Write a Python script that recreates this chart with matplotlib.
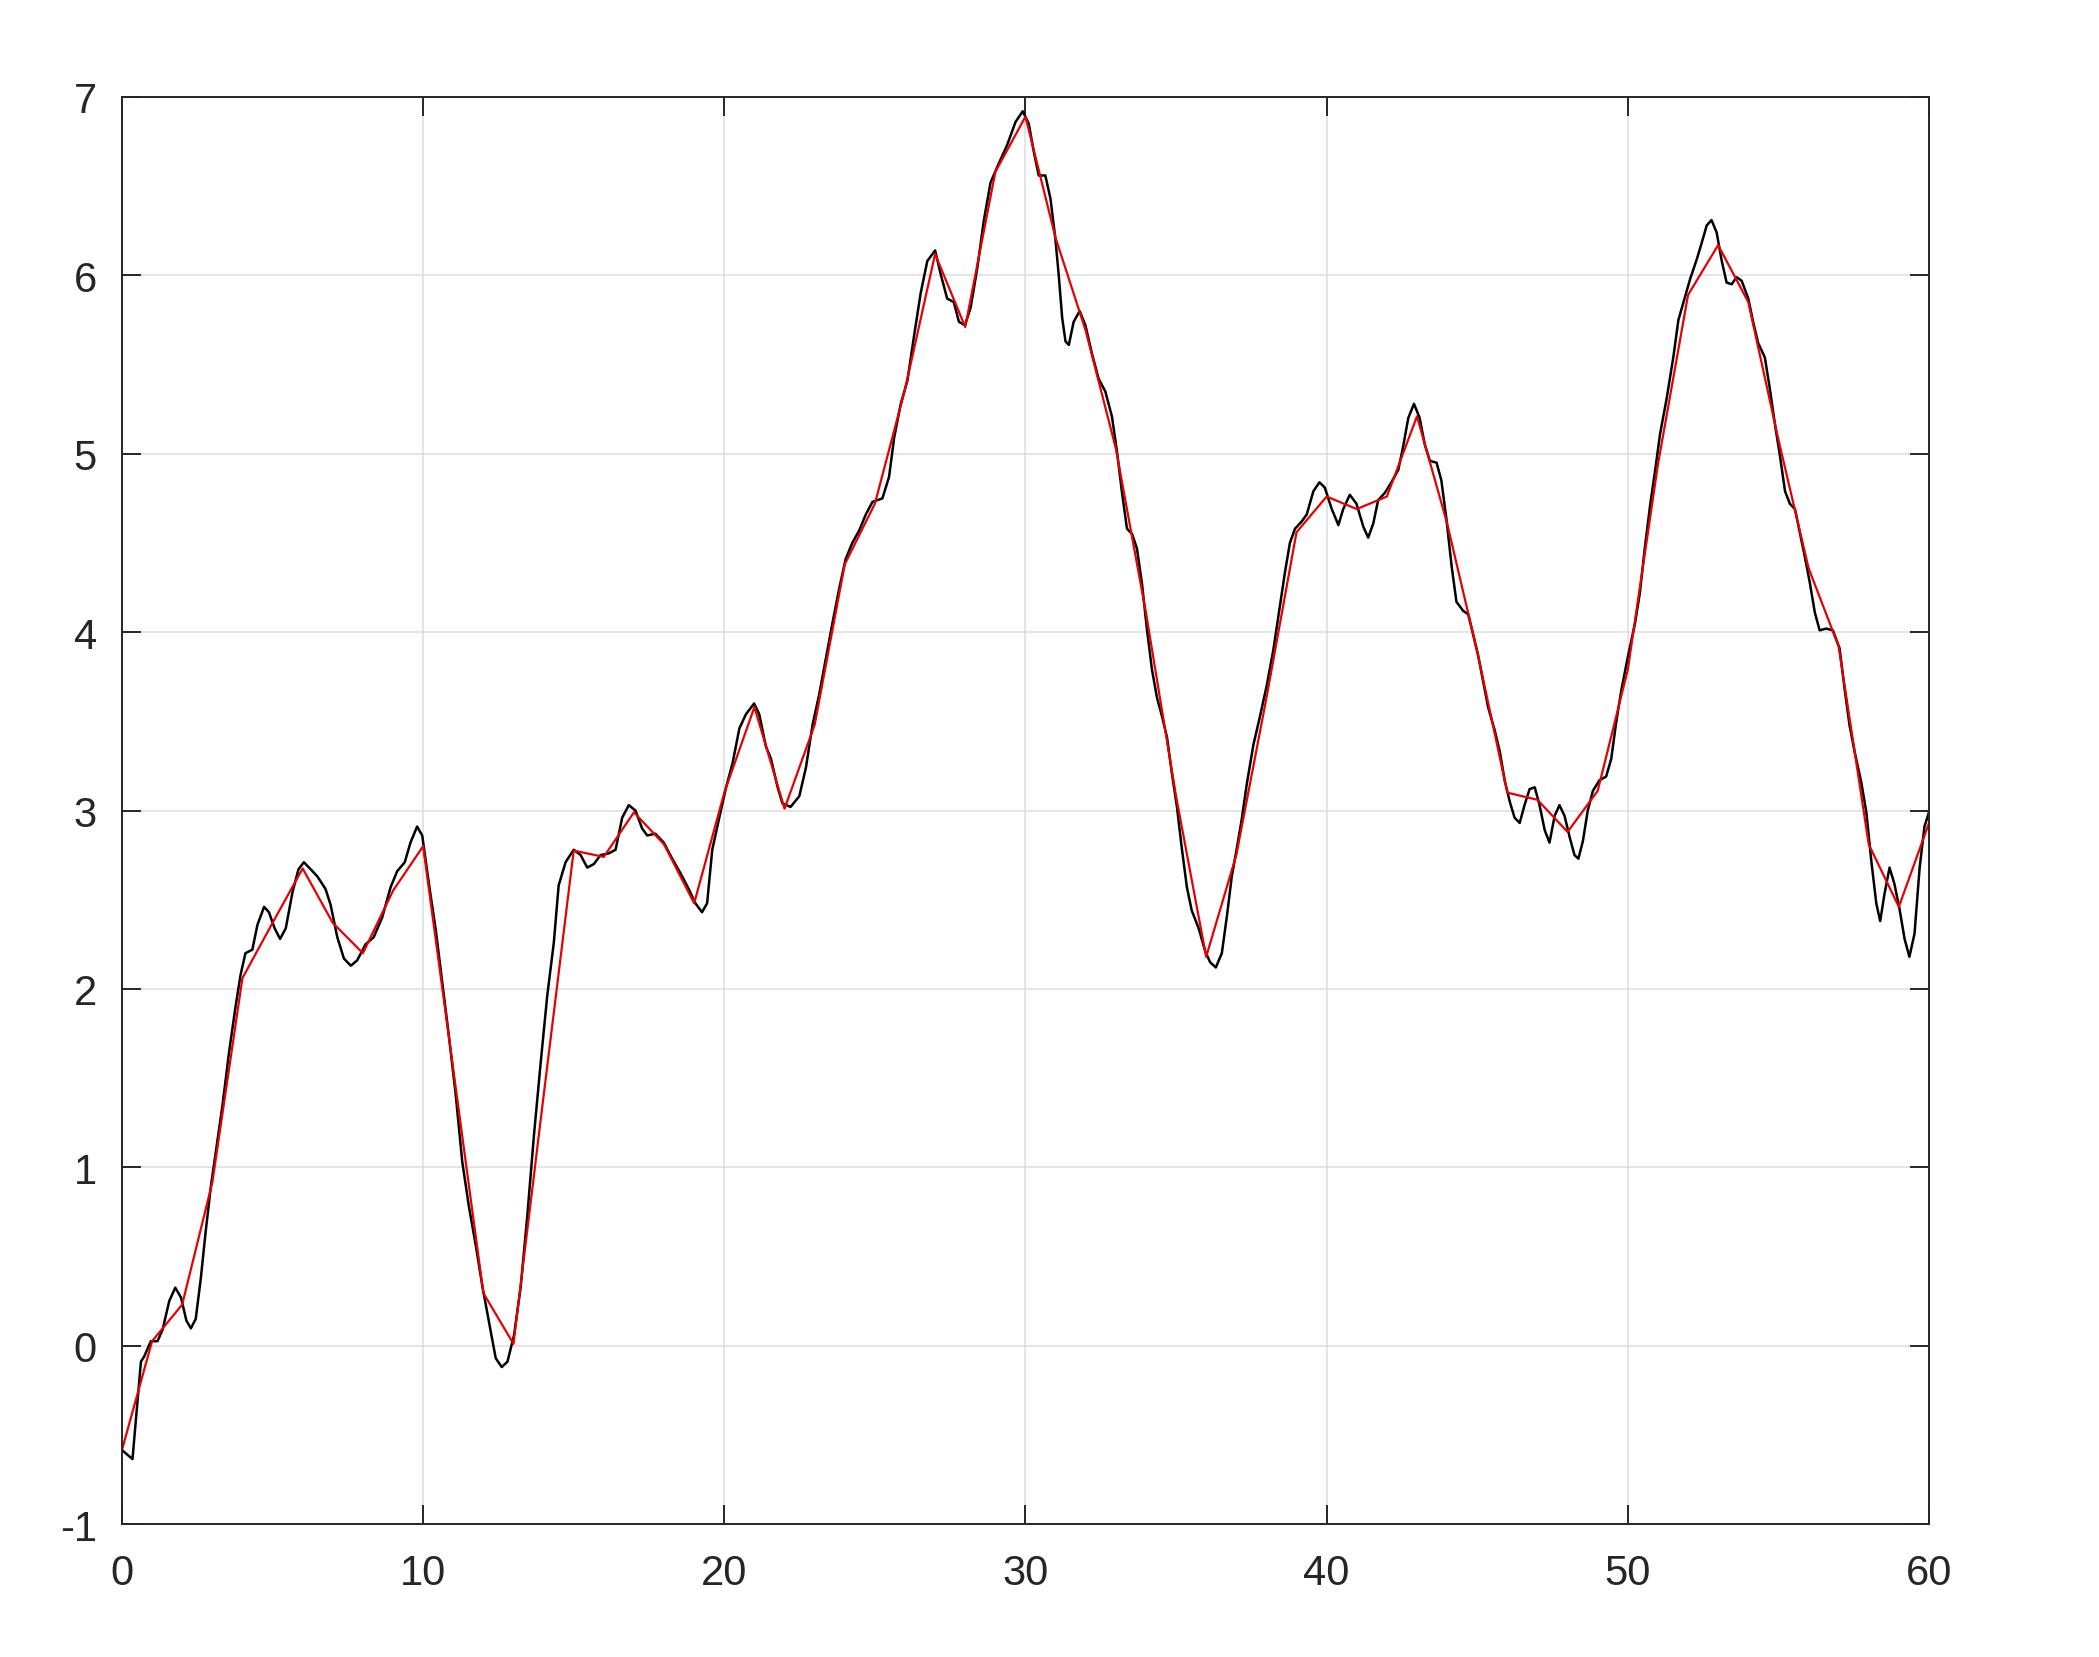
import numpy as np
import matplotlib
matplotlib.use('Agg')
from matplotlib import pyplot as plt

# sampled signal (red), one sample per integer t
t_samp = np.arange(0, 61)
y_samp = [-0.585, 0.025, 0.23, 0.915, 2.06, 2.37, 2.675, 2.37, 2.2, 2.55,
          2.80, 1.55, 0.295, 0.01, 1.4, 2.775, 2.74, 2.99, 2.81, 2.48,
          3.10, 3.58, 3.01, 3.48, 4.38, 4.72, 5.36, 6.12, 5.71, 6.58,
          6.89, 6.21, 5.69, 5.03, 4.11, 3.08, 2.18, 2.75, 3.63, 4.56,
          4.76, 4.69, 4.76, 5.21, 4.61, 3.89, 3.10, 3.06, 2.88, 3.11,
          3.79, 4.94, 5.89, 6.17, 5.85, 5.08, 4.36, 3.92, 2.81, 2.46,
          2.93]

# fine signal (black)
t_fine = [0, 0.35, 0.63, 0.74, 0.96, 1.18, 1.35, 1.57, 1.77, 1.96,
          2.14, 2.29, 2.45, 2.62, 2.78, 2.95, 3.12, 3.34, 3.56, 3.78,
          3.94, 4.1, 4.33, 4.5, 4.72, 4.88, 5.07, 5.25, 5.44, 5.66,
          5.86, 6.04, 6.27, 6.49, 6.76, 6.93, 7.15, 7.37, 7.6, 7.81,
          8.09, 8.36, 8.64, 8.92, 9.14, 9.39, 9.58, 9.8, 9.97,
          10.2, 10.42, 10.64, 10.86, 11.08, 11.3, 11.52, 11.75, 11.97, 12.19,
          12.41, 12.61, 12.8, 13.02, 13.24, 13.46, 13.68, 13.9, 14.12, 14.34,
          14.5, 14.73, 15.0, 15.23, 15.45, 15.67, 15.89, 16.17, 16.39, 16.61,
          16.83, 17.05, 17.27, 17.44, 17.71, 17.99, 18.27, 18.54, 18.82, 19.04,
          19.26, 19.43, 19.6, 19.82,
          20.06, 20.28, 20.5, 20.72, 20.99, 21.16, 21.38, 21.55, 21.77, 21.93,
          22.2, 22.49, 22.71, 22.93, 23.15, 23.37, 23.59, 23.81, 24.03, 24.25,
          24.48, 24.7, 24.92, 25.25, 25.47, 25.64, 25.86, 26.08, 26.3, 26.52,
          26.74, 27.0, 27.18, 27.4, 27.62, 27.79, 27.99, 28.18, 28.4, 28.62,
          28.84, 29.12, 29.39, 29.67, 29.91,
          30.11, 30.28, 30.44, 30.66, 30.83, 30.99, 31.1, 31.22, 31.33, 31.44,
          31.6, 31.8, 31.99, 32.21, 32.43, 32.65, 32.87, 33.04, 33.2, 33.37,
          33.54, 33.7, 33.87, 34.03, 34.2, 34.37, 34.53, 34.7, 34.86, 35.03,
          35.19, 35.36, 35.52, 35.75, 35.97, 36.13, 36.32, 36.52, 36.69, 36.85,
          37.02, 37.18, 37.35, 37.57, 37.79, 38.01, 38.23, 38.45, 38.62, 38.78,
          38.95, 39.17, 39.34, 39.56, 39.76, 39.94,
          40.17, 40.39, 40.55, 40.77, 40.99, 41.22, 41.38, 41.55, 41.71, 41.93,
          42.15, 42.38, 42.54, 42.71, 42.9, 43.09, 43.26, 43.43, 43.65, 43.81,
          43.98, 44.15, 44.31, 44.53, 44.7, 44.86, 45.03, 45.19, 45.36, 45.58,
          45.75, 45.91, 46.08, 46.24, 46.41, 46.57, 46.74, 46.91, 47.07, 47.24,
          47.4, 47.57, 47.73, 47.9, 48.07, 48.23, 48.36, 48.51, 48.67, 48.84,
          49.06, 49.28, 49.45, 49.61, 49.78, 50.0,
          50.24, 50.4, 50.57, 50.74, 50.91, 51.07, 51.29, 51.51, 51.68, 51.85,
          52.07, 52.29, 52.45, 52.62, 52.78, 52.95, 53.12, 53.28, 53.45, 53.61,
          53.78, 54.0, 54.16, 54.33, 54.55, 54.72, 54.89, 55.05, 55.22, 55.38,
          55.55, 55.71, 55.88, 56.04, 56.21, 56.37, 56.59, 56.81, 57.03, 57.2,
          57.36, 57.53, 57.75, 57.92, 58.09, 58.25, 58.38, 58.52, 58.69, 58.85,
          59.02, 59.19, 59.35, 59.52, 59.69, 59.85, 60.0]
y_fine = [-0.585, -0.636, -0.09, -0.06, 0.025, 0.025, 0.09, 0.25, 0.325, 0.27,
          0.14, 0.097, 0.15, 0.38, 0.64, 0.89, 1.09, 1.35, 1.65, 1.91,
          2.08, 2.2, 2.22, 2.36, 2.46, 2.43, 2.34, 2.28, 2.34, 2.54,
          2.67, 2.71, 2.67, 2.63, 2.56, 2.47, 2.29, 2.17, 2.13, 2.16,
          2.25, 2.29, 2.4, 2.57, 2.66, 2.71, 2.82, 2.91, 2.86,
          2.58, 2.33, 2.03, 1.73, 1.41, 1.03, 0.78, 0.56, 0.33, 0.13,
          -0.07, -0.12, -0.09, 0.06, 0.33, 0.73, 1.18, 1.58, 1.96, 2.26,
          2.58, 2.71, 2.78, 2.75, 2.68, 2.7, 2.75, 2.76, 2.78, 2.96,
          3.03, 3.0, 2.9, 2.86, 2.87, 2.82, 2.73, 2.65, 2.56, 2.48,
          2.43, 2.48, 2.78, 2.95,
          3.13, 3.27, 3.46, 3.54, 3.6, 3.54, 3.36, 3.29, 3.13, 3.04,
          3.02, 3.08, 3.24, 3.48, 3.65, 3.85, 4.05, 4.24, 4.41, 4.5,
          4.57, 4.66, 4.73, 4.75, 4.87, 5.09, 5.28, 5.41, 5.66, 5.9,
          6.08, 6.14, 6.01, 5.87, 5.85, 5.74, 5.72, 5.82, 6.04, 6.31,
          6.52, 6.63, 6.73, 6.86, 6.92,
          6.85, 6.69, 6.56, 6.56, 6.43, 6.21, 6.01, 5.76, 5.63, 5.61,
          5.74, 5.80, 5.72, 5.56, 5.42, 5.35, 5.21, 5.01, 4.79, 4.58,
          4.55, 4.47, 4.27, 4.02, 3.79, 3.63, 3.53, 3.41, 3.21, 3.02,
          2.79, 2.57, 2.44, 2.34, 2.21, 2.15, 2.12, 2.2, 2.41, 2.63,
          2.79, 2.95, 3.15, 3.37, 3.53, 3.7, 3.9, 4.15, 4.34, 4.5,
          4.58, 4.62, 4.66, 4.79, 4.84, 4.81,
          4.69, 4.6, 4.69, 4.77, 4.72, 4.59, 4.53, 4.61, 4.74, 4.78,
          4.84, 4.91, 5.04, 5.2, 5.28, 5.2, 5.05, 4.96, 4.95, 4.85,
          4.63, 4.37, 4.17, 4.12, 4.1, 3.99, 3.87, 3.73, 3.58, 3.45,
          3.33, 3.17, 3.05, 2.96, 2.93, 3.03, 3.12, 3.13, 3.03, 2.89,
          2.82, 2.97, 3.03, 2.97, 2.85, 2.75, 2.73, 2.83, 3.0, 3.11,
          3.17, 3.19, 3.29, 3.49, 3.67, 3.86,
          4.05, 4.22, 4.48, 4.71, 4.91, 5.11, 5.31, 5.54, 5.75, 5.85,
          5.98, 6.09, 6.18, 6.28, 6.31, 6.24, 6.08, 5.96, 5.95, 5.99,
          5.97, 5.87, 5.74, 5.62, 5.54, 5.36, 5.16, 4.99, 4.79, 4.72,
          4.69, 4.56, 4.42, 4.28, 4.11, 4.01, 4.02, 4.01, 3.91, 3.68,
          3.48, 3.33, 3.16, 2.99, 2.71, 2.48, 2.38, 2.53, 2.68, 2.59,
          2.45, 2.28, 2.18, 2.31, 2.68, 2.91, 2.99]

xticks = [0, 10, 20, 30, 40, 50, 60]
yticks = [-1, 0, 1, 2, 3, 4, 5, 6, 7]

plt.rcParams['font.family'] = ['Liberation Sans', 'DejaVu Sans']
plt.rcParams['axes.unicode_minus'] = False
dark = '#262626'

fig = plt.figure(figsize=(20.99, 16.58), dpi=100)
ax = fig.add_axes([0.0581, 0.0802, 0.8609, 0.8607])

ax.plot(t_fine, y_fine, color='k', lw=1.8, solid_joinstyle='round')
ax.plot(t_samp, y_samp, color=(0.9, 0, 0), lw=1.6)

ax.set_xlim(0, 60)
ax.set_ylim(-1, 7)
ax.set_xticks(xticks)
ax.set_yticks(yticks)
ax.grid(True, color='#dcdcdc', lw=1.1)
ax.set_axisbelow(True)
ax.tick_params(direction='in', length=13.5, width=1.4, colors=dark,
               labelsize=30, top=True, right=True)
ax.tick_params(axis='x', pad=21)
ax.tick_params(axis='y', pad=18)
for s in ax.spines.values():
    s.set_color(dark)
    s.set_linewidth(1.4)

plt.savefig('out.png', dpi=100)
